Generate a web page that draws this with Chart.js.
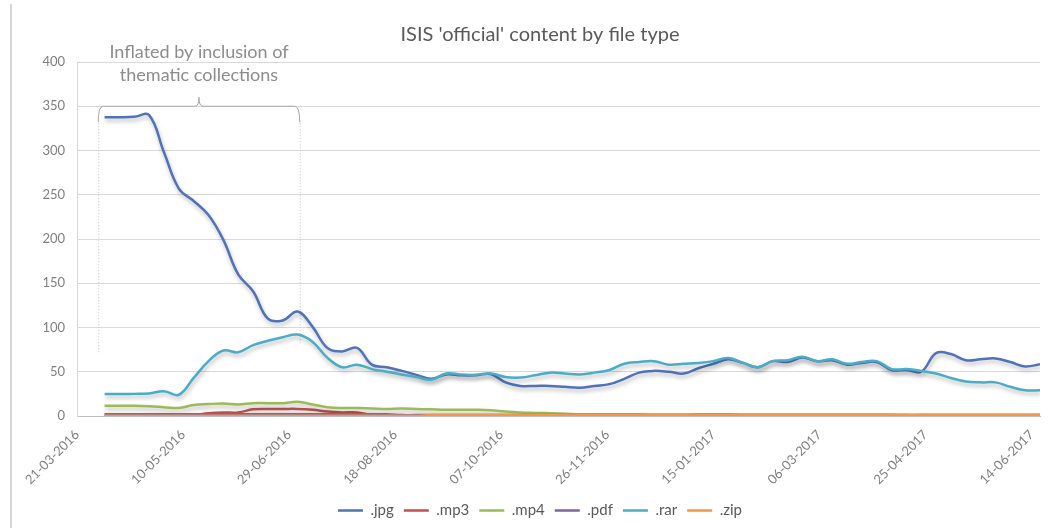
<!DOCTYPE html>
<html>
<head>
<meta charset="utf-8">
<title>ISIS 'official' content by file type</title>
<script src="https://cdn.jsdelivr.net/npm/chart.js@4.4.1/dist/chart.umd.min.js"></script>
<style>
  html, body { margin: 0; padding: 0; background: #fff; }
  #wrap { position: relative; width: 1060px; height: 528px; }
  #frame { position: absolute; left: 10px; top: 4px; bottom: 0; border-left: 2px solid #d6d6d6; }
  canvas { position: absolute; left: 0; top: 0; }
</style>
</head>
<body>
<div id="wrap">
  <div id="frame"></div>
  <canvas id="chart" width="1060" height="528"></canvas>
</div>
<script>
// Weekly observations
const weeks = [
  '03-04-2016', '10-04-2016', '17-04-2016', '24-04-2016', '01-05-2016', '08-05-2016', '15-05-2016', '22-05-2016',
  '29-05-2016', '05-06-2016', '12-06-2016', '19-06-2016', '26-06-2016', '03-07-2016', '10-07-2016', '17-07-2016',
  '24-07-2016', '31-07-2016', '07-08-2016', '14-08-2016', '21-08-2016', '28-08-2016', '04-09-2016', '11-09-2016',
  '18-09-2016', '25-09-2016', '02-10-2016', '09-10-2016', '16-10-2016', '23-10-2016', '30-10-2016', '06-11-2016',
  '13-11-2016', '20-11-2016', '27-11-2016', '04-12-2016', '11-12-2016', '18-12-2016', '25-12-2016', '01-01-2017',
  '08-01-2017', '15-01-2017', '22-01-2017', '29-01-2017', '05-02-2017', '12-02-2017', '19-02-2017', '26-02-2017',
  '05-03-2017', '12-03-2017', '19-03-2017', '26-03-2017', '02-04-2017', '09-04-2017', '16-04-2017', '23-04-2017',
  '30-04-2017', '07-05-2017', '14-05-2017', '21-05-2017', '28-05-2017', '04-06-2017', '11-06-2017', '18-06-2017'
];

const jpg = [
  337.5, 337.5, 338, 340, 298, 257, 243, 227, 199, 160, 141, 110, 108, 118, 101, 77,
  73, 77, 58, 55, 51, 46.5, 42, 47, 46, 46, 47.5, 38, 34, 34, 34, 33,
  32, 34, 36, 42, 49, 51, 50, 48, 54, 59, 64, 60, 55, 62, 61, 66,
  62, 63, 58, 60, 61, 52, 52, 50, 71, 70, 63, 64, 65, 61, 56, 58.5
];
const mp3 = [
  0.5, 0.5, 0.5, 0.5, 0.5, 0.5, 1, 3, 4, 4, 7.5, 8, 8, 8, 7, 5,
  4, 4, 1, 0.5, 0.5, 0.5, 0.5, 0.5, 0.5, 0.5, 0.5, 0.5, 0.5, 0.5, 0.5, 0.5,
  0.5, 0.5, 0.5, 0.5, 0.5, 0.5, 0.5, 0.5, 0.5, 0.5, 0.5, 0.5, 0.5, 0.5, 0.5, 0.5,
  0.5, 0.5, 0.5, 0.5, 0.5, 0.5, 0.5, 0.5, 0.5, 0.5, 0.5, 0.5, 0.5, 0.5, 0.5, 0.5
];
const mp4 = [
  11.5, 11.5, 11.5, 11, 10, 9, 12.5, 13.5, 14, 13, 14.5, 14.5, 14.5, 16, 13, 10,
  9, 9, 8.5, 8, 8.5, 8, 7.5, 7, 7, 7, 6.5, 5, 4, 3.5, 3, 2.5,
  2, 2, 2, 2, 2, 1.5, 1.5, 1.5, 2, 2, 2, 1.5, 1.5, 1.5, 1.5, 1.5,
  1.5, 1.5, 1.5, 1.5, 1.5, 1.5, 1, 1, 1, 1, 1, 1, 1, 1, 1, 1
];
const pdf = [
  2, 2, 2, 2, 2, 2, 2, 2, 2, 2, 2, 2, 2, 2, 2, 2,
  2, 2, 2, 2, 1, 1, 1, 1, 1, 1, 1, 1, 1, 1, 1, 1,
  1, 1, 1, 1, 1, 1, 1, 1, 1, 1, 1, 1, 1, 1, 1, 1,
  1, 1, 1, 1, 1, 1, 1, 1, 1, 1, 1, 1, 1, 1, 1, 1
];
const rar = [
  25, 25, 25, 25.5, 28, 24, 43, 62, 74, 72, 80, 85, 89, 92, 84, 66,
  55, 58, 53, 50, 47, 44, 41, 48, 47, 46.5, 48, 44, 43.5, 46, 49, 48,
  47, 49, 52, 59, 61, 62, 58, 59, 60, 62, 65.5, 60, 55, 62, 63, 67,
  62, 64, 59, 61, 62, 53, 53, 51, 48, 43, 39, 38, 38, 33, 29, 29
];
const zip = [
  0.3, 0.3, 0.3, 0.3, 0.3, 0.3, 0.3, 0.3, 0.3, 0.3, 0.3, 0.3, 0.3, 0.3, 0.3, 0.3,
  0.3, 0.3, 0.3, 0.3, 0.3, 0.3, 1, 1, 1, 1, 1, 1, 1, 1, 1, 1,
  1, 1, 1, 1, 1, 1, 1, 1, 1, 1, 1, 1, 1, 1, 1, 1,
  1, 1, 1, 1, 1, 1, 1, 1, 1, 1, 1, 1, 1, 1, 1, 1
];

const seriesNames = ['.jpg', '.mp3', '.mp4', '.pdf', '.rar', '.zip'];
const seriesColors = ['#4F72B8', '#C0504D', '#9BBB59', '#8064A2', '#4BACC6', '#F79646'];

// x axis labels (every 50 days) and y axis range
const xTickDates = ['21-03-2016', '10-05-2016', '29-06-2016', '18-08-2016', '07-10-2016',
  '26-11-2016', '15-01-2017', '06-03-2017', '25-04-2017', '14-06-2017'];
const yMax = 400;
const yStep = 50;

// note over the first weeks
const noteLines = ['Inflated by inclusion of', 'thematic collections'];
const bracketFrom = '31-03-2016';
const bracketTo = '04-07-2016';

const axisStart = Date.UTC(2016, 2, 21);
function toDay(s) {
  const [d, m, y] = s.split('-').map(Number);
  return (Date.UTC(y, m - 1, d) - axisStart) / 864e5;
}

const fontFamily = 'Lato, "Open Sans", sans-serif';
Chart.defaults.font.family = fontFamily;

// Gray drop shadow under the lines, like the Office chart
const lineShadow = {
  id: 'lineShadow',
  beforeDatasetsDraw(chart) {
    const c = chart.ctx;
    c.save();
    c.shadowColor = 'rgba(0, 0, 0, 0.28)';
    c.shadowBlur = 4;
    c.shadowOffsetX = 1;
    c.shadowOffsetY = 3;
  },
  afterDatasetsDraw(chart) {
    chart.ctx.restore();
  }
};

// Bracket + text note
const bracketNote = {
  id: 'bracketNote',
  beforeDatasetsDraw(chart) {
    const { ctx, scales: { x, y } } = chart;
    const x1 = x.getPixelForValue(toDay(bracketFrom));
    const x2 = x.getPixelForValue(toDay(bracketTo));
    const yb = y.getPixelForValue(350);
    const mid = (x1 + x2) / 2;
    ctx.save();
    ctx.lineWidth = 1;
    ctx.strokeStyle = '#c4c4c4';
    ctx.setLineDash([1, 2]);
    ctx.beginPath();
    ctx.moveTo(x1 + 0.5, yb + 14);
    ctx.lineTo(x1 + 0.5, y.getPixelForValue(72));
    ctx.moveTo(x2 + 0.5, yb + 14);
    ctx.lineTo(x2 + 0.5, y.getPixelForValue(80));
    ctx.stroke();
    ctx.setLineDash([]);
    ctx.strokeStyle = '#a6a6a6';
    ctx.beginPath();
    ctx.moveTo(x1, yb + 16);
    ctx.quadraticCurveTo(x1, yb, x1 + 5, yb);
    ctx.lineTo(mid - 4, yb);
    ctx.quadraticCurveTo(mid, yb, mid, yb - 9);
    ctx.quadraticCurveTo(mid, yb, mid + 4, yb);
    ctx.lineTo(x2 - 5, yb);
    ctx.quadraticCurveTo(x2, yb, x2, yb + 16);
    ctx.stroke();
    ctx.fillStyle = '#8c8c8c';
    ctx.font = '18px ' + fontFamily;
    ctx.textAlign = 'center';
    ctx.textBaseline = 'middle';
    noteLines.forEach((t, i) => ctx.fillText(t, mid, yb - 54 + i * 23));
    ctx.restore();
  }
};

const allSeries = [jpg, mp3, mp4, pdf, rar, zip];
const datasets = allSeries.map((vals, i) => ({
  label: seriesNames[i],
  data: vals.map((v, j) => ({ x: toDay(weeks[j]), y: v })),
  borderColor: seriesColors[i],
  backgroundColor: seriesColors[i],
  borderWidth: 2.5,
  pointRadius: 0,
  tension: 0.4,
  order: allSeries.length - i
}));

new Chart(document.getElementById('chart'), {
  type: 'line',
  data: { datasets: datasets },
  plugins: [bracketNote, lineShadow],
  options: {
    responsive: false,
    animation: false,
    layout: { padding: { top: 23, left: 40, right: 20, bottom: 0 } },
    plugins: {
      title: {
        display: true,
        text: "ISIS 'official' content by file type",
        color: '#595959',
        font: { size: 20, weight: 'normal' },
        padding: { top: 0, bottom: 15 }
      },
      legend: {
        position: 'bottom',
        labels: {
          usePointStyle: true,
          pointStyle: 'line',
          pointStyleWidth: 25,
          color: '#595959',
          font: { size: 15 },
          padding: 10,
          sort: (a, b) => a.datasetIndex - b.datasetIndex
        }
      },
      tooltip: { enabled: false }
    },
    scales: {
      x: {
        type: 'linear',
        min: 0,
        max: toDay(weeks[weeks.length - 1]),
        grid: { display: false },
        border: { color: '#bfbfbf' },
        afterBuildTicks(scale) {
          scale.ticks = xTickDates.map(d => ({ value: toDay(d), label: d }));
        },
        afterFit(scale) { scale.height = 77; },
        ticks: {
          autoSkip: false,
          minRotation: 45,
          maxRotation: 45,
          color: '#7f7f7f',
          font: { size: 13 },
          callback(value) {
            const d = new Date(axisStart + value * 864e5);
            const p = n => String(n).padStart(2, '0');
            return p(d.getUTCDate()) + '-' + p(d.getUTCMonth() + 1) + '-' + d.getUTCFullYear();
          }
        }
      },
      y: {
        min: 0,
        max: yMax,
        grid: { color: '#d9d9d9', drawTicks: false },
        border: { display: true, color: '#d9d9d9' },
        afterFit(scale) { scale.width = 37; },
        ticks: {
          stepSize: yStep,
          color: '#7f7f7f',
          font: { size: 13 },
          padding: 12
        }
      }
    }
  }
});
</script>
</body>
</html>
